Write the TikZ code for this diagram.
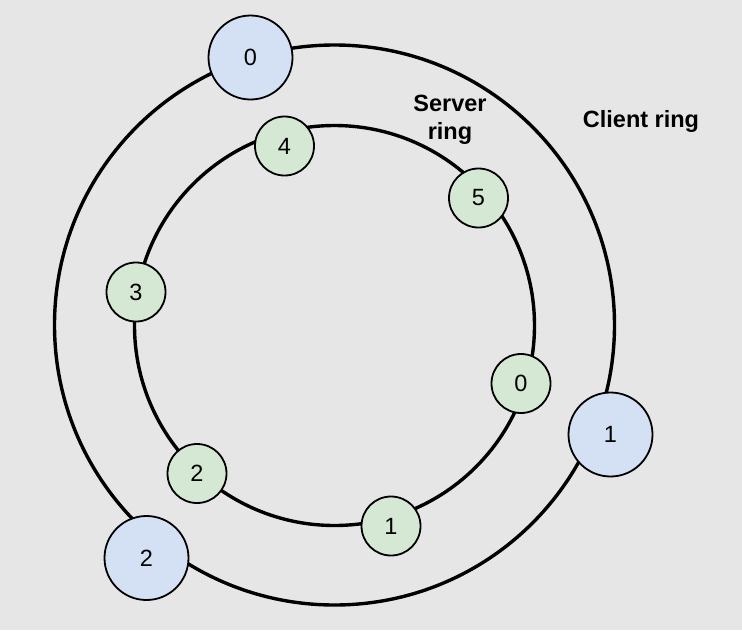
\documentclass[tikz,border=0pt]{standalone}
\usepackage{fontspec}
\setmainfont{Liberation Sans}
\definecolor{bg}{HTML}{E6E6E6}
\definecolor{cblue}{HTML}{D4E1F5}
\definecolor{cgreen}{HTML}{D5E8D4}
\begin{document}
\begin{tikzpicture}[x=1pt,y=-1pt,
  ring/.style={draw=black,line width=3.4pt},
  client/.style={circle,draw=black,line width=1.8pt,fill=cblue,minimum size=84pt,inner sep=0pt,font=\fontsize{23.5}{28}\selectfont,align=center},
  server/.style={circle,draw=black,line width=1.8pt,fill=cgreen,minimum size=59pt,inner sep=0pt,font=\fontsize{23.5}{28}\selectfont,align=center},
  lbl/.style={font=\bfseries\fontsize{23.5}{28}\selectfont,align=center}]
\fill[bg] (0,0) rectangle (742,630);
\useasboundingbox (0,0) rectangle (742,630);
\node[ring,circle,minimum size=560pt,inner sep=0pt] (outer) at (334.5,325) {};
\node[ring,circle,minimum size=400pt,inner sep=0pt] (inner) at (334.5,325.5) {};
\node[server] (s4) at (284.5,146) {4};
\node[server] (s5) at (478.5,198) {5};
\node[server] (s3) at (136,292) {3};
\node[server] (s0) at (521,383.5) {0};
\node[server] (s2) at (197,473.5) {2};
\node[server] (s1) at (391,526) {1};
\node[client] (c0) at (250.5,57.5) {0};
\node[client] (c1) at (610.5,434.5) {1};
\node[client] (c2) at (146.5,558) {2};
\node[lbl] (srv) at (450,120) {Server\\ring};
\node[lbl] (cli) at (641,121) {Client ring};
\end{tikzpicture}
\end{document}
